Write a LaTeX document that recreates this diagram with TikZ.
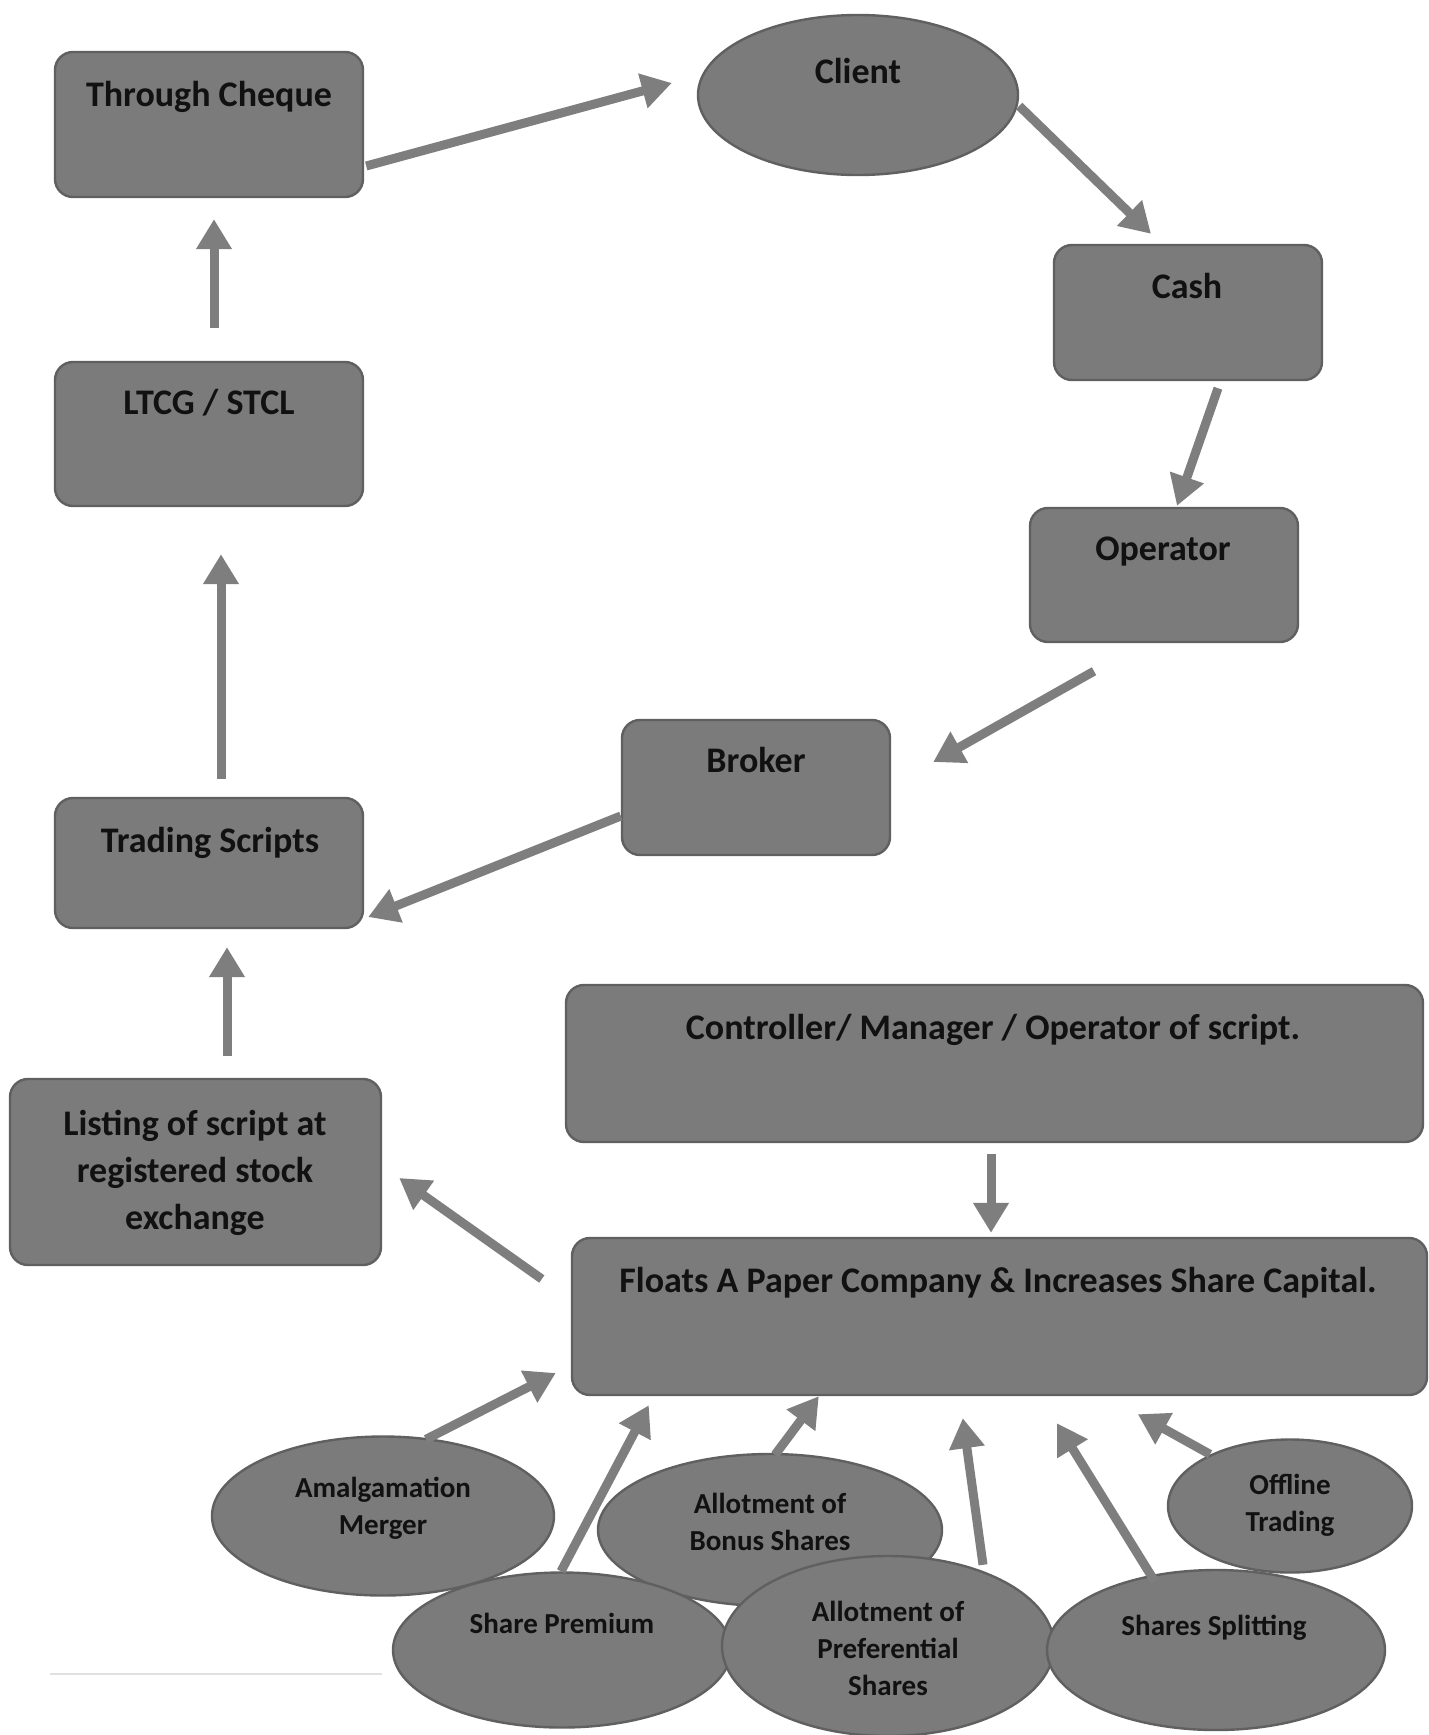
\documentclass[tikz,border=0pt]{standalone}
\usepackage{fontspec}
\setmainfont{Carlito}
\usetikzlibrary{shapes.geometric,arrows.meta,calc}
\definecolor{boxfill}{HTML}{7B7B7B}
\definecolor{boxline}{HTML}{606060}
\definecolor{arrowgray}{HTML}{7E7E7E}
\definecolor{inkblack}{HTML}{111111}
\begin{document}
\begin{tikzpicture}[x=0.5pt,y=-0.5pt,
  box/.style={draw=boxline,fill=boxfill,line width=1.2pt,rounded corners=9pt,inner sep=0pt},
  oval/.style={ellipse,draw=boxline,fill=boxfill,line width=1.2pt,inner sep=0pt},
  sz/.style 2 args={minimum width=0.5*#1 pt,minimum height=0.5*#2 pt},
  boxtext/.style={text=inkblack,font=\bfseries\fontsize{18}{23.5}\selectfont,align=center,inner sep=0pt},
  ovaltext/.style={text=inkblack,font=\bfseries\fontsize{14.5}{18.5}\selectfont,align=center,inner sep=0pt},
  flow/.style={draw=arrowgray,line width=4.5pt,-{Triangle[width=17pt,length=15pt]}}]
\fill[white] (0,0) rectangle (1429,1735);
\useasboundingbox (0,0) rectangle (1429,1735);
\draw[black!12,line width=0.8pt] (50,1674) -- (382,1674);

% rectangular steps of the cycle
\node[box,sz={308}{145}] (tc) at (209,124.5) {};
\node[boxtext] at (209,97) {Through Cheque};
\node[oval,sz={320}{160}] (client) at (858,95) {};
\node[boxtext] at (858,71) {Client};
\node[box,sz={268}{135}] (cash) at (1188,312.5) {};
\node[boxtext] at (1187,286) {Cash};
\node[box,sz={268}{134}] (oper) at (1164,575) {};
\node[boxtext] at (1163,552) {Operator};
\node[box,sz={268}{135}] (broker) at (756,787.5) {};
\node[boxtext] at (756,760) {Broker};
\node[box,sz={308}{144}] (ltcg) at (209,434) {};
\node[boxtext] at (209,403) {LTCG / STCL};
\node[box,sz={308}{130}] (trade) at (209,863) {};
\node[boxtext] at (210,843) {Trading Scripts};
\node[box,sz={371}{186}] (listing) at (195.5,1172) {};
\node[boxtext] at (195,1173) {Listing of script at\\registered stock\\exchange};
\node[box,sz={857}{157}] (ctrl) at (994.5,1063.5) {};
\node[boxtext] at (993,1030) {Controller/ Manager / Operator of script.};
\node[box,sz={855}{157}] (floats) at (999.5,1316.5) {};
\node[boxtext] at (998,1283) {Floats A Paper Company \& Increases Share Capital.};

% sources of share capital
\node[oval,sz={342}{159}] (amal) at (383,1516) {};
\node[ovaltext] at (383,1508) {Amalgamation\\Merger};
\node[oval,sz={344}{152}] (bonus) at (770,1530) {};
\node[ovaltext] at (770,1522) {Allotment of\\Bonus Shares};
\node[oval,sz={244}{133}] (offline) at (1290,1506) {};
\node[ovaltext] at (1290,1505) {Offline\\Trading};
\node[oval,sz={338}{155}] (prem) at (562,1650) {};
\node[ovaltext] at (562,1623) {Share Premium};
\node[oval,sz={332}{180}] (pref) at (888,1646) {};
\node[ovaltext] at (888,1648) {Allotment of\\Preferential\\Shares};
\node[oval,sz={338}{160}] (split) at (1216,1650) {};
\node[ovaltext] at (1214,1628) {Shares Splitting};

% cycle connectors
\draw[flow] ($(tc.east)+(2,41.5)$) -- ($(client.west)+(-25,-12)$);
\draw[flow] ($(client.east)+(0,11)$) -- ($(cash.north)+(-37,-10)$);
\draw[flow] ($(cash.south)+(30,7)$) -- ($(oper.north)+(13,-1)$);
\draw[flow] ($(oper.south)+(-70,28)$) -- ($(broker.east)+(42,-25.5)$);
\draw[flow] ($(broker.west)+(0,28.5)$) -- ($(trade.east)+(4,54)$);
\draw[flow] ($(trade.north)+(12,-18)$) -- ($(ltcg.south)+(12,47)$);
\draw[flow] ($(ltcg.north)+(5,-33)$) -- ($(tc.south)+(5,21)$);
\draw[flow] ($(listing.north)+(31.5,-22)$) -- ($(trade.south)+(18,18)$);
\draw[flow] ($(floats.west)+(-29,-37.5)$) -- ($(listing.east)+(17,6)$);
\draw[flow] ($(ctrl.south)+(-3.5,11)$) -- ($(floats.north)+(-8.5,-4)$);

% connectors into the paper company
\draw[flow] ($(amal.north)+(43,4)$) -- ($(floats.west)+(-15,56.5)$);
\draw[flow] ($(prem.north)+(-1,0)$) -- ($(floats.south west)+(78,9)$);
\draw[flow] ($(bonus.north)+(5,2)$) -- ($(floats.south west)+(248,0)$);
\draw[flow] ($(pref.north)+(95,10)$) -- ($(floats.south west)+(392,22)$);
\draw[flow] ($(split.north)+(-61,13)$) -- ($(floats.south west)+(486,27)$);
\draw[flow] ($(offline.north)+(-80,16)$) -- ($(floats.south west)+(567,18)$);
\end{tikzpicture}
\end{document}
